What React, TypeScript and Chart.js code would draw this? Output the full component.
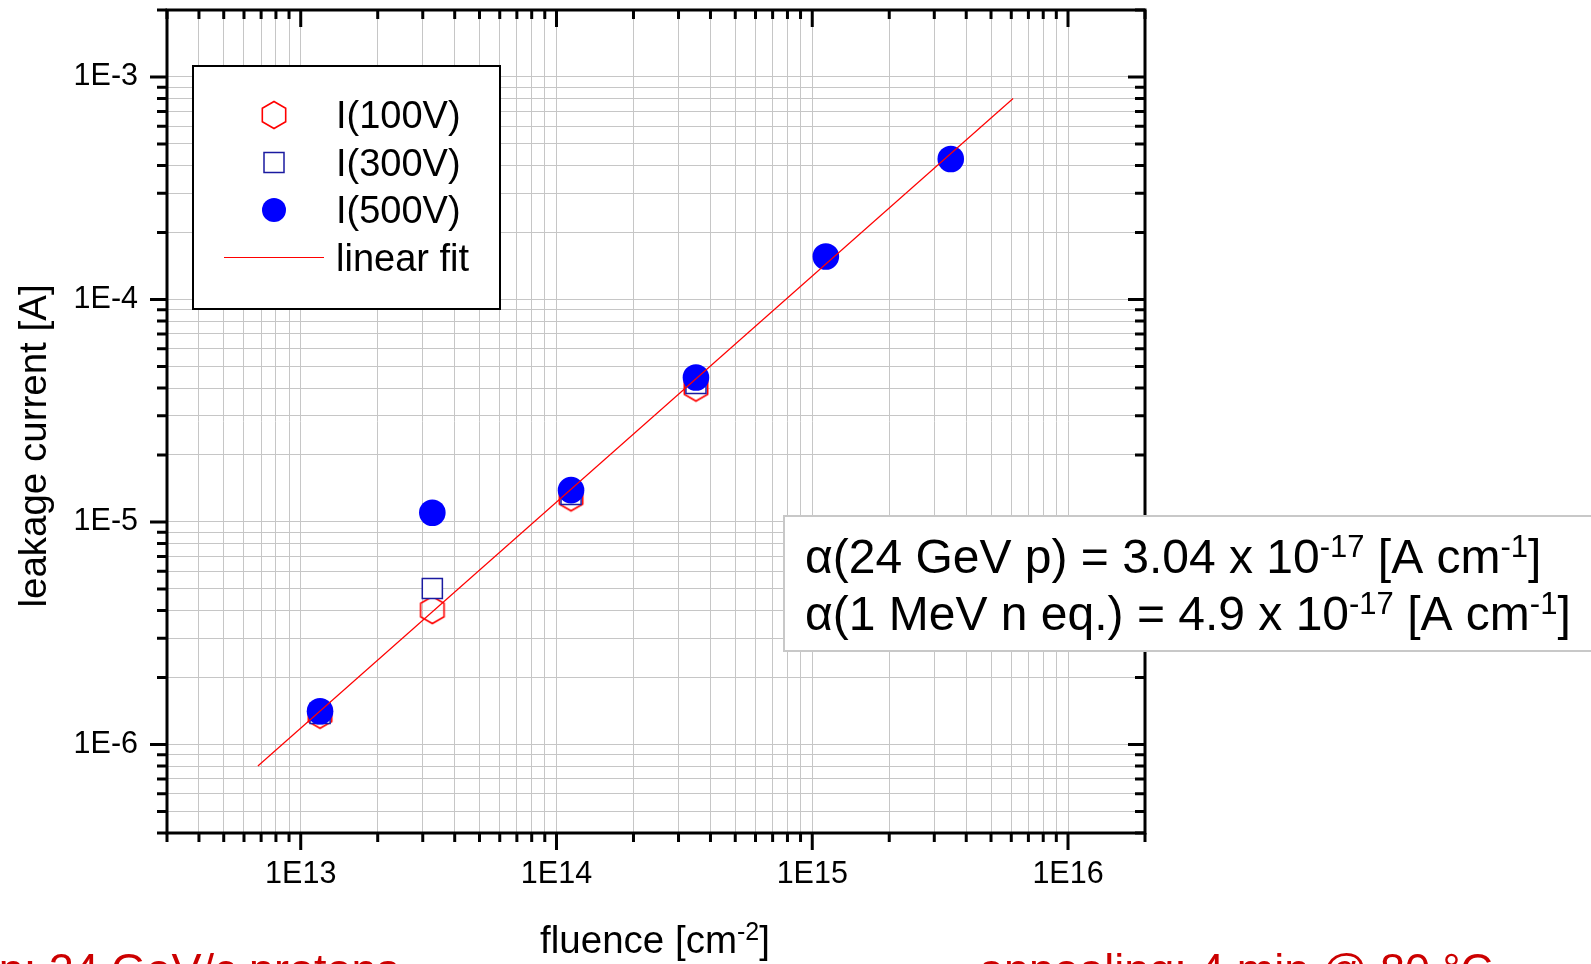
import React, { useEffect, useRef } from 'react';
import { Chart, registerables } from 'chart.js';

Chart.register(...registerables);

// ---------------- data ----------------
const fluence = [1.19e13, 3.27e13, 1.14e14, 3.51e14, 1.13e15, 3.48e15];
const current100V = [1.36e-6, 4.02e-6, 1.29e-5, 4.02e-5, null, null];
const current300V = [1.38e-6, 5.02e-6, 1.33e-5, 4.19e-5, null, null];
const current500V = [1.41e-6, 1.10e-5, 1.39e-5, 4.46e-5, 1.56e-4, 4.28e-4];
const fitFluence = [6.8e12, 6.1e15];
const fitCurrent = [8.0e-7, 8.0e-4];

const xMajorTicks = [1e13, 1e14, 1e15, 1e16];
const xTickLabels = ['1E13', '1E14', '1E15', '1E16'];
const yMajorTicks = [1e-6, 1e-5, 1e-4, 1e-3];
const yTickLabels = ['1E-6', '1E-5', '1E-4', '1E-3'];
const minorSteps = [2, 3, 4, 5, 6, 7, 8, 9];
const xRange = [3e12, 2e16];
const yRange = [4e-7, 2e-3];

const legendLabels = ['I(100V)', 'I(300V)', 'I(500V)', 'linear fit'];
const yTitle = 'leakage current [A]';
const xTitleMain = 'fluence [cm';
const xTitleSup = '-2';
const annotLine1 = 'α(24 GeV p) = 3.04 x 10';
const annotLine2 = 'α(1 MeV n eq.) = 4.9 x 10';
const annotExp = '-17';
const annotUnit = ' [A cm';
const annotUnitExp = '-1';
const footLeft = 'irradiation: 24 GeV/c protons';
const footRight = 'annealing: 4 min @ 80 °C';

// ---------------- styling ----------------
const FONT = "'Liberation Sans', Arial, sans-serif";
const RED = '#ff0000';
const BLUE = '#0000ff';
const NAVY = '#1a1aa0';
const GRID = '#c6c6c6';

type Seg = { t: string; sup?: boolean };

function isMajor(v: number, majors: number[]) {
  return majors.some((m) => Math.abs(m - v) / m < 1e-6);
}

function buildLogTicks(min: number, max: number, majors: number[]) {
  const out: { value: number; major: boolean }[] = [];
  const e0 = Math.floor(Math.log10(min));
  const e1 = Math.ceil(Math.log10(max));
  for (let e = e0; e <= e1; e++) {
    for (const m of [1, ...minorSteps]) {
      const v = Number(m + 'e' + e);
      if (v >= min * (1 - 1e-9) && v <= max * (1 + 1e-9)) {
        out.push({ value: v, major: isMajor(v, majors) });
      }
    }
  }
  return out;
}

function labelFor(v: number, majors: number[], labels: string[]) {
  const i = majors.findIndex((m) => Math.abs(m - v) / m < 1e-6);
  return i >= 0 ? labels[i] : '';
}

function makeHexagon(r: number, color: string, lw: number): HTMLCanvasElement {
  const size = 32;
  const c = document.createElement('canvas');
  c.width = size;
  c.height = size;
  const g = c.getContext('2d')!;
  g.strokeStyle = color;
  g.lineWidth = lw;
  g.beginPath();
  for (let k = 0; k < 6; k++) {
    const a = -Math.PI / 2 + (k * Math.PI) / 3;
    const px = size / 2 + r * Math.cos(a);
    const py = size / 2 + r * Math.sin(a);
    if (k === 0) g.moveTo(px, py);
    else g.lineTo(px, py);
  }
  g.closePath();
  g.stroke();
  return c;
}

function drawRich(ctx: CanvasRenderingContext2D, segs: Seg[], x: number, y: number, size: number, align: 'left' | 'center') {
  const supSize = Math.round(size * 0.64);
  const mainFont = `${size}px ${FONT}`;
  const supFont = `${supSize}px ${FONT}`;
  let total = 0;
  for (const s of segs) {
    ctx.font = s.sup ? supFont : mainFont;
    total += ctx.measureText(s.t).width;
  }
  let cx = align === 'center' ? x - total / 2 : x;
  ctx.textAlign = 'left';
  ctx.textBaseline = 'alphabetic';
  for (const s of segs) {
    ctx.font = s.sup ? supFont : mainFont;
    ctx.fillText(s.t, cx, s.sup ? y - size * 0.33 : y);
    cx += ctx.measureText(s.t).width;
  }
}

export default function App() {
  const ref = useRef<HTMLCanvasElement | null>(null);

  useEffect(() => {
    const canvas = ref.current;
    if (!canvas) return;
    const hex = makeHexagon(13.5, RED, 1.6);

    const decor = {
      id: 'decor',
      afterDraw(chart: any) {
        const ctx: CanvasRenderingContext2D = chart.ctx;
        const a = chart.chartArea;
        const xs = chart.scales.x;
        const ys = chart.scales.y;
        ctx.save();
        // tick marks
        ctx.strokeStyle = '#000';
        ctx.lineWidth = 3;
        ctx.beginPath();
        xs.ticks.forEach((t: any) => {
          const p = xs.getPixelForValue(t.value);
          const len = isMajor(t.value, xMajorTicks) ? 17 : 9;
          ctx.moveTo(p, a.bottom);
          ctx.lineTo(p, a.bottom + len);
          ctx.moveTo(p, a.top);
          ctx.lineTo(p, a.top + len);
        });
        ys.ticks.forEach((t: any) => {
          const p = ys.getPixelForValue(t.value);
          const len = isMajor(t.value, yMajorTicks) ? 17 : 10;
          ctx.moveTo(a.left - len, p);
          ctx.lineTo(a.left, p);
          ctx.moveTo(a.right - len, p);
          ctx.lineTo(a.right, p);
        });
        ctx.stroke();
        // frame
        ctx.lineWidth = 3;
        ctx.strokeRect(a.left, a.top, a.right - a.left, a.bottom - a.top);

        // legend
        const lx = 193, ly = 66, lw = 307, lh = 243;
        ctx.fillStyle = '#fff';
        ctx.fillRect(lx, ly, lw, lh);
        ctx.lineWidth = 2;
        ctx.strokeStyle = '#000';
        ctx.strokeRect(lx, ly, lw, lh);
        const symX = 274;
        const rows = [115, 162.5, 210, 257.5];
        ctx.drawImage(hex, symX - 16, rows[0] - 16);
        ctx.strokeStyle = NAVY;
        ctx.lineWidth = 1.5;
        ctx.strokeRect(symX - 10, rows[1] - 10, 20, 20);
        ctx.fillStyle = BLUE;
        ctx.beginPath();
        ctx.arc(symX, rows[2], 12, 0, Math.PI * 2);
        ctx.fill();
        ctx.strokeStyle = RED;
        ctx.lineWidth = 1.2;
        ctx.beginPath();
        ctx.moveTo(224, rows[3]);
        ctx.lineTo(324, rows[3]);
        ctx.stroke();
        ctx.fillStyle = '#000';
        ctx.font = `38px ${FONT}`;
        ctx.textAlign = 'left';
        ctx.textBaseline = 'alphabetic';
        legendLabels.forEach((lab, i) => ctx.fillText(lab, 336, rows[i] + 13));

        // axis titles
        ctx.save();
        ctx.translate(46, 446);
        ctx.rotate(-Math.PI / 2);
        ctx.font = `38.5px ${FONT}`;
        ctx.textAlign = 'center';
        ctx.fillText(yTitle, 0, 0);
        ctx.restore();
        drawRich(ctx, [{ t: xTitleMain }, { t: xTitleSup, sup: true }, { t: ']' }], 655, 953, 38.5, 'center');

        // annotation box
        ctx.fillStyle = '#fff';
        ctx.fillRect(784, 516, 900, 135);
        ctx.strokeStyle = '#c8c8c8';
        ctx.lineWidth = 2;
        ctx.strokeRect(784, 516, 900, 135);
        ctx.fillStyle = '#000';
        drawRich(ctx, [{ t: annotLine1 }, { t: annotExp, sup: true }, { t: annotUnit }, { t: annotUnitExp, sup: true }, { t: ']' }], 805, 573, 48, 'left');
        drawRich(ctx, [{ t: annotLine2 }, { t: annotExp, sup: true }, { t: annotUnit }, { t: annotUnitExp, sup: true }, { t: ']' }], 805, 630, 48, 'left');

        // footer texts (cut by page edge)
        ctx.fillStyle = '#cc0000';
        ctx.font = `45px ${FONT}`;
        ctx.textAlign = 'right';
        ctx.fillText(footLeft, 399, 985);
        ctx.textAlign = 'left';
        ctx.fillText(footRight, 979, 985);
        ctx.restore();
      },
    };

    const pts = (ys: (number | null)[]) => fluence.map((x, i) => ({ x, y: ys[i] }));

    const chart = new Chart(canvas, {
      type: 'scatter',
      data: {
        datasets: [
          {
            label: 'linear fit',
            data: fitFluence.map((x, i) => ({ x, y: fitCurrent[i] })),
            showLine: true,
            pointRadius: 0,
            borderColor: RED,
            borderWidth: 1.2,
            backgroundColor: RED,
            order: 0,
          },
          {
            label: legendLabels[2],
            data: pts(current500V),
            pointStyle: 'circle',
            pointRadius: 13.3,
            backgroundColor: BLUE,
            borderColor: BLUE,
            borderWidth: 0,
            order: 1,
          },
          {
            label: legendLabels[1],
            data: pts(current300V),
            pointStyle: 'rect',
            pointRadius: 14.2,
            backgroundColor: 'rgba(255,255,255,1)',
            borderColor: NAVY,
            borderWidth: 1.5,
            order: 2,
          },
          {
            label: legendLabels[0],
            data: pts(current100V),
            pointStyle: hex as any,
            pointRadius: 14,
            backgroundColor: 'rgba(0,0,0,0)',
            borderColor: RED,
            order: 3,
          },
        ],
      },
      options: {
        animation: false,
        responsive: false,
        maintainAspectRatio: false,
        devicePixelRatio: 1,
        events: [],
        layout: { autoPadding: false, padding: { left: 0, top: 10, right: 446, bottom: 0 } },
        plugins: { legend: { display: false }, tooltip: { enabled: false } },
        scales: {
          x: {
            type: 'logarithmic',
            position: 'bottom',
            min: xRange[0],
            max: xRange[1],
            afterBuildTicks: (s: any) => {
              s.ticks = buildLogTicks(xRange[0], xRange[1], xMajorTicks);
            },
            afterFit: (s: any) => {
              s.height = 131;
              s.paddingLeft = 0;
              s.paddingRight = 0;
            },
            grid: { color: GRID, lineWidth: 1, drawTicks: false },
            border: { display: false },
            ticks: {
              autoSkip: false,
              maxRotation: 0,
              minRotation: 0,
              padding: 23,
              color: '#000',
              font: { family: FONT, size: 30.5 },
              callback: (v: any) => labelFor(Number(v), xMajorTicks, xTickLabels),
            },
          },
          y: {
            type: 'logarithmic',
            position: 'left',
            min: yRange[0],
            max: yRange[1],
            afterBuildTicks: (s: any) => {
              s.ticks = buildLogTicks(yRange[0], yRange[1], yMajorTicks);
            },
            afterFit: (s: any) => {
              s.width = 167;
              s.paddingTop = 0;
              s.paddingBottom = 0;
            },
            grid: { color: GRID, lineWidth: 1, drawTicks: false },
            border: { display: false },
            ticks: {
              autoSkip: false,
              padding: 29,
              color: '#000',
              font: { family: FONT, size: 30.5 },
              callback: (v: any) => labelFor(Number(v), yMajorTicks, yTickLabels),
            },
          },
        },
      },
      plugins: [decor],
    } as any);

    return () => chart.destroy();
  }, []);

  return (
    <div style={{ position: 'fixed', left: 0, top: 0, width: 1591, height: 964, background: '#fff', overflow: 'hidden' }}>
      <canvas ref={ref} width={1591} height={964} style={{ display: 'block' }} />
    </div>
  );
}
